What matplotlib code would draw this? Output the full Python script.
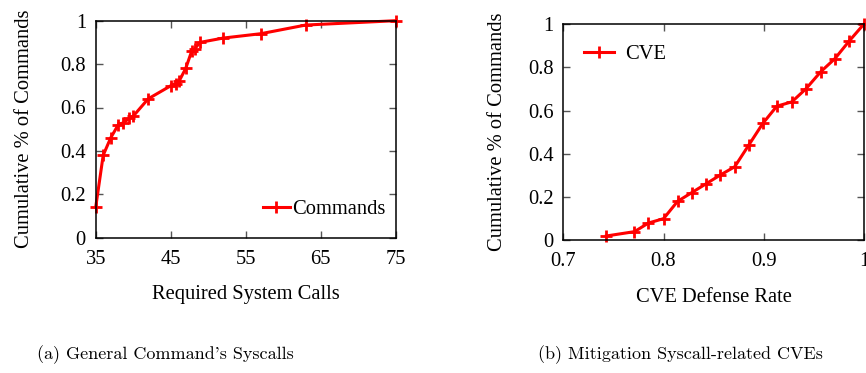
import matplotlib
matplotlib.use("Agg")
import matplotlib.pyplot as plt

# (a) required system calls per command
syscalls = [35, 36, 37, 38, 38.7, 39.5, 40, 42, 45, 45.7, 46.1, 47, 47.8, 48.2, 48.9, 52, 57, 63, 75]
cmd_cdf = [0.14, 0.38, 0.46, 0.52, 0.53, 0.55, 0.56, 0.64, 0.70, 0.71, 0.72, 0.78, 0.86, 0.87, 0.90, 0.92, 0.94, 0.98, 1.0]

# (b) CVE defense rate
defense = [0.743, 0.771, 0.785, 0.80, 0.814, 0.828, 0.842, 0.856, 0.871, 0.885, 0.899,
           0.913, 0.928, 0.942, 0.957, 0.971, 0.985, 1.0]
cve_cdf = [0.02, 0.04, 0.08, 0.10, 0.18, 0.22, 0.26, 0.30, 0.34, 0.44, 0.54,
           0.62, 0.64, 0.70, 0.78, 0.84, 0.92, 1.0]

serif = "Liberation Serif"
RED = "#ff0000"
FS = 14.8

fig = plt.figure(figsize=(8.66, 3.73), dpi=100)
W, H = 866, 373
ax1 = fig.add_axes([95.7 / W, (H - 237.7) / H, 300 / W, 217 / H])
ax2 = fig.add_axes([563.3 / W, (H - 240.3) / H, 300.7 / W, 216.3 / H])


def style(ax):
    ax.tick_params(direction="in", top=True, right=True, length=5, width=1,
                   color="#555555", labelsize=FS)
    ax.tick_params(axis="x", pad=8.5)
    ax.tick_params(axis="y", pad=7)
    for s in ax.spines.values():
        s.set_linewidth(1.1)
    ax.set_ylim(0, 1)
    ax.set_yticks([0, 0.2, 0.4, 0.6, 0.8, 1])
    ax.set_yticklabels(["0", "0.2", "0.4", "0.6", "0.8", "1"], fontfamily=serif)
    for lab in ax.get_xticklabels():
        lab.set_fontfamily(serif)


ax1.plot(syscalls, cmd_cdf, color=RED, lw=2.2, marker="+", ms=9, mew=2,
         label="Commands", clip_on=False)
ax1.set_xlim(35, 75)
ax1.set_xticks([35, 45, 55, 65, 75])
style(ax1)
ax1.set_xlabel("Required System Calls", fontfamily=serif, fontsize=FS, labelpad=12)
ax1.set_ylabel("Cumulative % of Commands", fontfamily=serif, fontsize=FS, labelpad=19)
ax1.legend(loc="center left", bbox_to_anchor=(0.558, 0.132), frameon=False,
           borderpad=0, borderaxespad=0, prop={"family": serif, "size": FS},
           handlelength=1.3, handletextpad=0.1)

ax2.plot(defense, cve_cdf, color=RED, lw=2.2, marker="+", ms=9, mew=2,
         label="CVE", clip_on=False)
ax2.set_xlim(0.7, 1.0)
ax2.set_xticks([0.7, 0.8, 0.9, 1.0])
ax2.set_xticklabels(["0.7", "0.8", "0.9", "1"])
style(ax2)
ax2.set_xlabel("CVE Defense Rate", fontfamily=serif, fontsize=FS, labelpad=12)
ax2.set_ylabel("Cumulative % of Commands", fontfamily=serif, fontsize=FS, labelpad=15)
ax2.legend(loc="center left", bbox_to_anchor=(0.069, 0.861), frameon=False,
           borderpad=0, borderaxespad=0, prop={"family": serif, "size": FS},
           handlelength=1.45, handletextpad=0.55)

cap = ["cmr10", "DejaVu Serif"]
fig.text(165 / W, 1 - 355 / H, "(a) General Command's Syscalls", family=cap,
         fontsize=13, ha="center", va="center")
fig.text(680 / W, 1 - 355 / H, "(b) Mitigation Syscall-related CVEs", family=cap,
         fontsize=13, ha="center", va="center")

fig.savefig("out.png", dpi=100)
